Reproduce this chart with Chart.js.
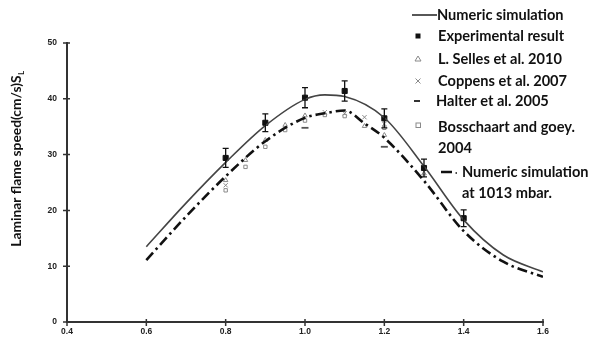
<!DOCTYPE html>
<html>
<head>
<meta charset="utf-8">
<script src="https://cdn.jsdelivr.net/npm/chart.js@4.4.0/dist/chart.umd.min.js"></script>
<style>
  html, body { margin: 0; padding: 0; background: #fff; }
  #wrap { width: 590px; height: 341px; position: relative; }
</style>
</head>
<body>
<div id="wrap"><canvas id="c"></canvas></div>
<script>
// ─── data ───
const xTicks = [0.4, 0.6, 0.8, 1.0, 1.2, 1.4, 1.6];
const yTicks = [0, 10, 20, 30, 40, 50];

const simX = [0.6, 0.7, 0.8, 0.9, 1.0, 1.05, 1.1, 1.2, 1.3, 1.4, 1.5, 1.6];
const simY = [13.5, 21.3, 28.6, 35.2, 39.9, 40.7, 40.4, 36.6, 27.9, 18.3, 12.0, 9.0];

const sim1013X = [0.6, 0.7, 0.8, 0.9, 1.0, 1.05, 1.1, 1.15, 1.2, 1.3, 1.4, 1.5, 1.6];
const sim1013Y = [11.1, 18.9, 26.1, 32.4, 36.6, 37.4, 37.9, 35.6, 33.0, 25.3, 16.3, 10.8, 8.1];

const expX = [0.8, 0.9, 1.0, 1.1, 1.2, 1.3, 1.4];
const expY = [29.4, 35.7, 40.2, 41.4, 36.5, 27.6, 18.6];
const expErr = [1.7, 1.6, 1.8, 1.8, 1.7, 1.6, 1.5];

const sellesX = [0.8, 0.85, 0.9, 0.95, 1.0, 1.15, 1.2, 1.3];
const sellesY = [25.4, 29.0, 32.6, 35.3, 37.0, 35.1, 33.5, 26.6];

const coppensX = [0.8, 1.05, 1.1, 1.15, 1.2];
const coppensY = [24.5, 37.6, 37.4, 36.7, 35.5];

const halterX = [1.0, 1.2];
const halterY = [34.8, 31.4];

const bossX = [0.8, 0.85, 0.9, 0.95, 1.0, 1.05, 1.1, 1.2];
const bossY = [23.6, 27.8, 31.4, 34.4, 36.1, 37.1, 36.9, 34.8];

const legendItems = [
    'Numeric simulation',
    'Experimental result',
    'L. Selles et al. 2010',
    'Coppens et al. 2007',
    'Halter et al. 2005',
    'Bosschaart and goey.|2004',
    'Numeric simulation|at 1013 mbar.'
];
const yTitle = 'Laminar flame speed(cm/s)S';
const yTitleSub = 'L';

const pts = (xs, ys) => xs.map((x, i) => ({ x, y: ys[i] }));
const GREY = '#8a8a8a';

// error bars on the experimental points
const errorBars = {
    id: 'errorBars',
    afterDatasetsDraw(chart) {
        const { ctx, scales: { x, y } } = chart;
        ctx.save();
        ctx.strokeStyle = '#111';
        ctx.lineWidth = 1.3;
        expX.forEach((v, i) => {
            const px = x.getPixelForValue(v);
            const top = y.getPixelForValue(expY[i] + expErr[i]);
            const bot = y.getPixelForValue(expY[i] - expErr[i]);
            ctx.beginPath();
            ctx.moveTo(px, top); ctx.lineTo(px, bot);
            ctx.moveTo(px - 3, top); ctx.lineTo(px + 3, top);
            ctx.moveTo(px - 3, bot); ctx.lineTo(px + 3, bot);
            ctx.stroke();
        });
        ctx.restore();
    }
};

// tick marks crossing both axes
const crossTicks = {
    id: 'crossTicks',
    afterDraw(chart) {
        const { ctx, chartArea: a, scales: { x, y } } = chart;
        ctx.save();
        ctx.strokeStyle = '#333';
        ctx.lineWidth = 1.5;
        ctx.beginPath();
        xTicks.forEach(v => {
            const px = x.getPixelForValue(v);
            ctx.moveTo(px, a.bottom - 3); ctx.lineTo(px, a.bottom + 4);
        });
        yTicks.forEach(v => {
            const py = y.getPixelForValue(v);
            ctx.moveTo(a.left - 4, py); ctx.lineTo(a.left + 3, py);
        });
        ctx.stroke();
        ctx.restore();
    }
};

// y title with subscript
const yTitlePlugin = {
    id: 'yTitlePlugin',
    afterDraw(chart) {
        const { ctx } = chart;
        ctx.save();
        ctx.translate(17, 159);
        ctx.rotate(-Math.PI / 2);
        ctx.fillStyle = '#111';
        ctx.textBaseline = 'middle';
        ctx.font = 'bold 13.8px Lato';
        const w1 = ctx.measureText(yTitle).width;
        ctx.font = 'bold 8px Lato';
        const w2 = ctx.measureText(yTitleSub).width;
        const start = -(w1 + w2) / 2;
        ctx.font = 'bold 13.8px Lato';
        ctx.fillText(yTitle, start, 0);
        ctx.font = 'bold 8px Lato';
        ctx.fillText(yTitleSub, start + w1 + 0.5, 4);
        ctx.restore();
    }
};

// legend drawn at the right, over the plot
const legendPlugin = {
    id: 'legendPlugin',
    afterDraw(chart) {
        const { ctx } = chart;
        const rows = [15, 36, 59, 81, 101, 127, 172];
        const textX = [437, 438, 438, 438, 436, 438, 462];
        const mx = 418;
        ctx.save();
        ctx.textBaseline = 'middle';
        ctx.fillStyle = '#111';
        ctx.font = 'bold 14.6px Lato';
        legendItems.forEach((t, i) => {
            t.split('|').forEach((line, j) => ctx.fillText(line, textX[i], rows[i] + j * 21));
        });
        // symbols
        ctx.lineWidth = 1.8;
        ctx.strokeStyle = '#444';
        ctx.beginPath(); ctx.moveTo(412, rows[0]); ctx.lineTo(437, rows[0]); ctx.stroke();
        ctx.fillStyle = '#111';
        ctx.fillRect(mx - 2.5, rows[1] - 2.5, 5, 5);
        ctx.strokeStyle = GREY;
        ctx.lineWidth = 1;
        ctx.beginPath();
        ctx.moveTo(mx, rows[2] - 3); ctx.lineTo(mx + 3, rows[2] + 2); ctx.lineTo(mx - 3, rows[2] + 2); ctx.closePath();
        ctx.stroke();
        ctx.beginPath();
        ctx.moveTo(mx - 2.5, rows[3] - 2.5); ctx.lineTo(mx + 2.5, rows[3] + 2.5);
        ctx.moveTo(mx + 2.5, rows[3] - 2.5); ctx.lineTo(mx - 2.5, rows[3] + 2.5);
        ctx.stroke();
        ctx.strokeStyle = '#333';
        ctx.lineWidth = 2;
        ctx.beginPath(); ctx.moveTo(414, rows[4]); ctx.lineTo(420, rows[4]); ctx.stroke();
        ctx.strokeStyle = GREY;
        ctx.lineWidth = 1;
        ctx.strokeRect(mx - 2, rows[5] - 4, 4.5, 4.5);
        ctx.strokeStyle = '#111';
        ctx.lineWidth = 2.5;
        ctx.beginPath(); ctx.moveTo(441, rows[6]); ctx.lineTo(452, rows[6]); ctx.stroke();
        ctx.lineWidth = 1.5;
        ctx.beginPath(); ctx.moveTo(455.5, rows[6] + 1); ctx.lineTo(457, rows[6] + 1); ctx.stroke();
        ctx.restore();
    }
};

const tickFont = { family: 'Liberation Sans', weight: 'bold', size: 8.5 };

new Chart(document.getElementById('c'), {
    type: 'scatter',
    data: {
        datasets: [
            { label: 'Numeric simulation', data: pts(simX, simY), showLine: true, borderColor: '#444',
              borderWidth: 1.6, pointRadius: 0, cubicInterpolationMode: 'monotone' },
            { label: 'Numeric simulation at 1013 mbar.', data: pts(sim1013X, sim1013Y), showLine: true,
              borderColor: '#111', borderWidth: 2.6, borderDash: [10, 4, 2.5, 4], pointRadius: 0,
              cubicInterpolationMode: 'monotone' },
            { label: 'L. Selles et al. 2010', data: pts(sellesX, sellesY), pointStyle: 'triangle',
              pointRadius: 2.6, borderColor: GREY, borderWidth: 1, backgroundColor: 'rgba(255,255,255,0)' },
            { label: 'Coppens et al. 2007', data: pts(coppensX, coppensY), pointStyle: 'crossRot',
              pointRadius: 3, borderColor: GREY, borderWidth: 1 },
            { label: 'Halter et al. 2005', data: pts(halterX, halterY), pointStyle: 'line',
              pointRadius: 3.5, borderColor: '#555', borderWidth: 1.8 },
            { label: 'Bosschaart and goey. 2004', data: pts(bossX, bossY), pointStyle: 'rect',
              pointRadius: 2.4, borderColor: GREY, borderWidth: 1, backgroundColor: 'rgba(255,255,255,0)' },
            { label: 'Experimental result', data: pts(expX, expY), pointStyle: 'rect',
              pointRadius: 3.6, borderColor: '#111', backgroundColor: '#111', borderWidth: 1 }
        ]
    },
    options: {
        responsive: true,
        maintainAspectRatio: false,
        animation: false,
        layout: { padding: { top: 43, right: 47, left: 0, bottom: 0 } },
        plugins: { legend: { display: false }, tooltip: { enabled: false } },
        scales: {
            x: {
                type: 'linear', min: 0.4, max: 1.6,
                afterBuildTicks: s => { s.ticks = xTicks.map(v => ({ value: v })); },
                afterFit: s => { s.height = 19; },
                grid: { display: false, drawTicks: false },
                border: { display: true, color: '#333', width: 2 },
                ticks: { color: '#222', padding: 5, font: tickFont,
                         callback: v => Number(v).toFixed(1), maxRotation: 0 }
            },
            y: {
                min: 0, max: 50,
                afterBuildTicks: s => { s.ticks = yTicks.map(v => ({ value: v })); },
                afterFit: s => { s.width = 67; },
                grid: { display: false, drawTicks: false },
                border: { display: true, color: '#333', width: 2 },
                ticks: { color: '#222', padding: 10, font: tickFont }
            }
        }
    },
    plugins: [errorBars, crossTicks, yTitlePlugin, legendPlugin]
});
</script>
</body>
</html>
